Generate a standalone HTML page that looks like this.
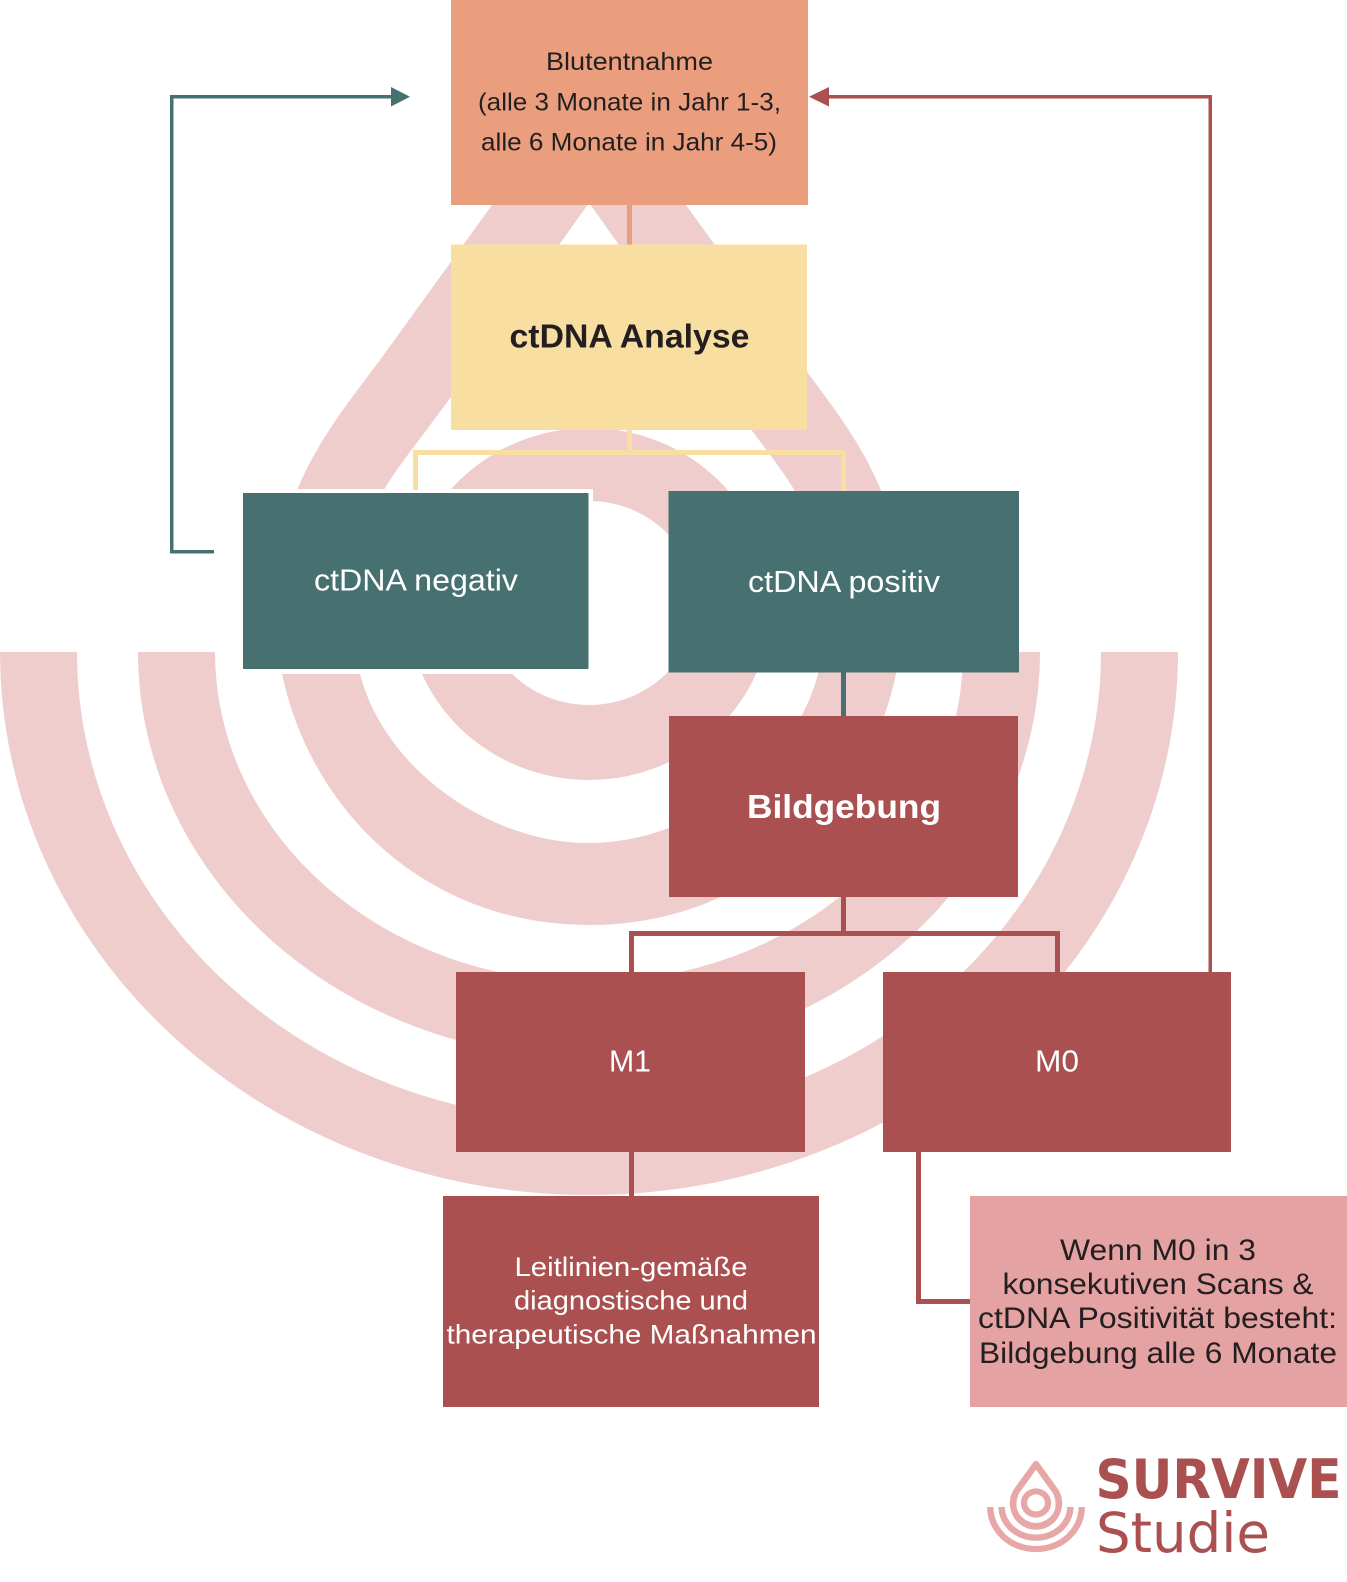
<!DOCTYPE html>
<html lang="de">
<head>
<meta charset="utf-8">
<title>SURVIVE Studie</title>
<style>
html,body{margin:0;padding:0;background:#fff;width:1347px;height:1582px;overflow:hidden}
svg{display:block}
text{font-family:"Liberation Sans",sans-serif;text-anchor:start}
</style>
</head>
<body>
<svg xmlns="http://www.w3.org/2000/svg" width="1347" height="1582" viewBox="0 0 1347 1582">
<defs>
<path id="mark" fill-rule="evenodd" d="
M0,652 A589,543 0 0 0 1178,652 L1101,652 A512,469 0 0 1 77,652 Z
M138,652 A451,406 0 0 0 1040,652 L963,652 A374,330 0 0 1 215,652 Z
M545,130 L492,205 L380,360 C350,400 318,440 298,488 C272,550 268,620 282,674 C312,815 430,925 589,925 C748,925 866,815 896,674 C910,620 906,550 880,488 C860,440 828,400 798,360 L686,205 L633,130 Q589,66 545,130 Z
M586,207 L451,397 L425,432 C410,452 396,470 385,488 C358,540 345,610 360,674 C385,770 490,843 589,843 C688,843 793,770 818,674 C833,610 820,540 793,488 C782,470 768,452 753,432 L727,397 L592,207 Q589,202 586,207 Z
M407,604 A182,176 0 1 0 771,604 A182,176 0 1 0 407,604 Z
M482,603 A107,102 0 1 0 696,603 A107,102 0 1 0 482,603 Z"/>
</defs>

<rect width="1347" height="1582" fill="#fff"/>
<use href="#mark" fill="#efcdcd"/>
<rect x="238" y="489" width="355" height="185" fill="#fff"/>

<!-- connectors -->
<rect x="627" y="204" width="5" height="42" fill="#ea9e7d"/>
<rect x="627" y="430" width="5" height="22" fill="#f8dea0"/>
<rect x="413" y="450" width="433" height="5" fill="#f8dea0"/>
<rect x="413" y="450" width="5" height="40" fill="#f8dea0"/>
<rect x="841" y="450" width="5" height="42" fill="#f8dea0"/>
<rect x="841" y="672" width="5" height="45" fill="#477170"/>
<rect x="841" y="897" width="5" height="39" fill="#ab5051"/>
<rect x="629" y="931" width="431" height="5" fill="#ab5051"/>
<rect x="629" y="931" width="5" height="42" fill="#ab5051"/>
<rect x="1055" y="931" width="5" height="42" fill="#ab5051"/>
<rect x="629" y="1152" width="5" height="45" fill="#ab5051"/>
<rect x="916" y="1152" width="5" height="152" fill="#ab5051"/>
<rect x="916" y="1299" width="55" height="5" fill="#ab5051"/>

<!-- feedback arrows -->
<rect x="1208.5" y="95" width="3.5" height="878" fill="#ab5051"/>
<rect x="825" y="95" width="387" height="3.5" fill="#ab5051"/>
<polygon points="809,96.7 829,87 829,106.5" fill="#ab5051"/>
<rect x="170" y="95" width="3.5" height="458" fill="#477170"/>
<rect x="170" y="95" width="224" height="3.5" fill="#477170"/>
<rect x="170" y="550" width="44" height="3.5" fill="#477170"/>
<polygon points="410,96.7 391,87 391,106.5" fill="#477170"/>

<!-- boxes -->
<rect x="451" y="0" width="357" height="205" fill="#ea9e7d"/>
<rect x="451" y="244.5" width="356" height="185.5" fill="#f8dea0"/>
<rect x="243" y="493" width="345.5" height="176" fill="#477170"/>
<rect x="668.5" y="491" width="350.5" height="181.5" fill="#477170"/>
<rect x="669" y="716" width="349" height="181" fill="#ab5051"/>
<rect x="456" y="972" width="349" height="180" fill="#ab5051"/>
<rect x="883" y="972" width="348" height="180" fill="#ab5051"/>
<rect x="443" y="1196" width="376" height="211" fill="#ab5051"/>
<rect x="970" y="1196" width="377" height="211" fill="#e5a2a3"/>

<!-- labels -->
<g fill="#231f20" font-size="25">
<text x="546" y="70" textLength="167" lengthAdjust="spacingAndGlyphs">Blutentnahme</text>
<text x="478" y="110.7" textLength="303" lengthAdjust="spacingAndGlyphs">(alle 3 Monate in Jahr 1-3,</text>
<text x="481" y="150.7" textLength="296" lengthAdjust="spacingAndGlyphs">alle 6 Monate in Jahr 4-5)</text>
</g>
<text x="509.5" y="347.7" font-size="33" font-weight="700" fill="#231f20" textLength="240" lengthAdjust="spacingAndGlyphs">ctDNA Analyse</text>
<text x="314" y="590.7" font-size="31" fill="#fff" textLength="204" lengthAdjust="spacingAndGlyphs">ctDNA negativ</text>
<text x="748" y="592" font-size="31" fill="#fff" textLength="192" lengthAdjust="spacingAndGlyphs">ctDNA positiv</text>
<text x="747" y="818" font-size="33" font-weight="700" fill="#fff" textLength="194" lengthAdjust="spacingAndGlyphs">Bildgebung</text>
<text x="609" y="1071.6" font-size="31" fill="#fff" textLength="42" lengthAdjust="spacingAndGlyphs">M1</text>
<text x="1035" y="1071.6" font-size="31" fill="#fff" textLength="44" lengthAdjust="spacingAndGlyphs">M0</text>
<g fill="#fff" font-size="27">
<text x="514.5" y="1276" textLength="233" lengthAdjust="spacingAndGlyphs">Leitlinien-gemäße</text>
<text x="514" y="1309.3" textLength="234" lengthAdjust="spacingAndGlyphs">diagnostische und</text>
<text x="446.5" y="1343.3" textLength="370" lengthAdjust="spacingAndGlyphs">therapeutische Maßnahmen</text>
</g>
<g fill="#231f20" font-size="30">
<text x="1060" y="1260" textLength="196" lengthAdjust="spacingAndGlyphs">Wenn M0 in 3</text>
<text x="1002.5" y="1294" textLength="311" lengthAdjust="spacingAndGlyphs">konsekutiven Scans &amp;</text>
<text x="978" y="1328" textLength="359" lengthAdjust="spacingAndGlyphs">ctDNA Positivität besteht:</text>
<text x="979" y="1363" textLength="358" lengthAdjust="spacingAndGlyphs">Bildgebung alle 6 Monate</text>
</g>

<!-- logo -->
<g transform="translate(1036,1507) scale(0.0832) translate(-589,-652)">
<use href="#mark" fill="#e8a7a7"/>
</g>
<text x="1095.5" y="1498" font-size="54" font-weight="700" fill="#ab5051" style="font-family:'DejaVu Sans',sans-serif" textLength="246" lengthAdjust="spacingAndGlyphs">SURVIVE</text>
<text x="1096" y="1552" font-size="55" fill="#ab5051" style="font-family:'DejaVu Sans',sans-serif" textLength="174" lengthAdjust="spacingAndGlyphs">Studie</text>
</svg>
</body>
</html>
